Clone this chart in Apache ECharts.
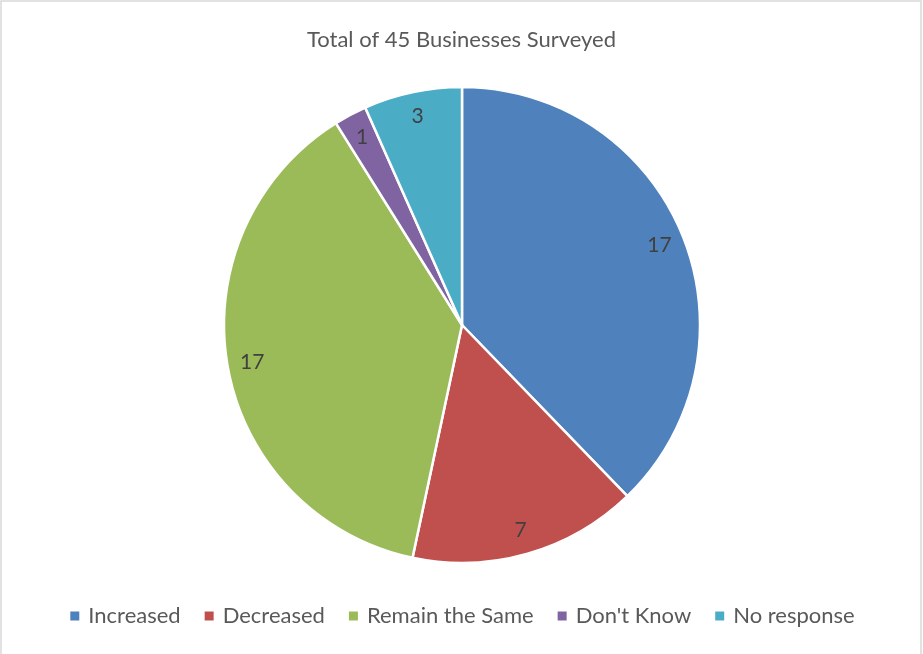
<!DOCTYPE html>
<html>
<head>
<meta charset="utf-8">
<script src="https://cdn.jsdelivr.net/npm/echarts@6/dist/echarts.min.js"></script>
<style>
  html, body { margin: 0; padding: 0; background: #fff; }
  #chart { width: 923px; height: 654px; }
</style>
</head>
<body>
<div id="chart"></div>
<script>
// Survey responses (number of businesses)
const categories = ['Increased', 'Decreased', 'Remain the Same', "Don't Know", 'No response'];
const counts = [17, 7, 17, 1, 3];
const colors = ['#4F81BD', '#C0504D', '#9BBB59', '#8064A2', '#4BACC6'];
const titleText = 'Total of 45 Businesses Surveyed';

const pieData = categories.map((name, i) => ({ name: name, value: counts[i] }));
const FONT = 'Lato, "Open Sans", sans-serif';

const chart = echarts.init(document.getElementById('chart'), null, { renderer: 'canvas' });
chart.setOption({
  animation: false,
  color: colors,
  title: {
    text: titleText,
    left: 'center',
    top: 24,
    textStyle: { fontFamily: FONT, fontSize: 22, fontWeight: 'normal', color: '#595959' }
  },
  legend: {
    data: categories,
    bottom: 22,
    left: 'center',
    icon: 'rect',
    itemWidth: 11,
    itemHeight: 11,
    itemGap: 22,
    textStyle: { fontFamily: FONT, fontSize: 22, color: '#595959', padding: [0, 0, 0, 3] }
  },
  graphic: [{
    type: 'rect',
    silent: true,
    shape: { x: 1, y: 1, width: 920, height: 670 },
    style: { fill: 'none', stroke: '#d9d9d9', lineWidth: 1.5 }
  }],
  series: [
    {
      type: 'pie',
      center: [462, 325],
      radius: 238,
      startAngle: 90,
      clockwise: true,
      label: { show: false },
      labelLine: { show: false },
      itemStyle: { borderColor: '#ffffff', borderWidth: 2.5 },
      emphasis: { disabled: true },
      data: pieData
    },
    {
      // transparent ring carrying the value labels near the rim
      type: 'pie',
      center: [462, 325],
      radius: [182, 238],
      startAngle: 90,
      clockwise: true,
      silent: true,
      itemStyle: { color: 'rgba(0,0,0,0)', borderWidth: 0 },
      label: {
        show: true,
        position: 'inside',
        formatter: '{c}',
        fontFamily: FONT,
        fontSize: 21,
        color: '#404040'
      },
      labelLine: { show: false },
      emphasis: { disabled: true },
      data: pieData
    }
  ]
});
</script>
</body>
</html>
